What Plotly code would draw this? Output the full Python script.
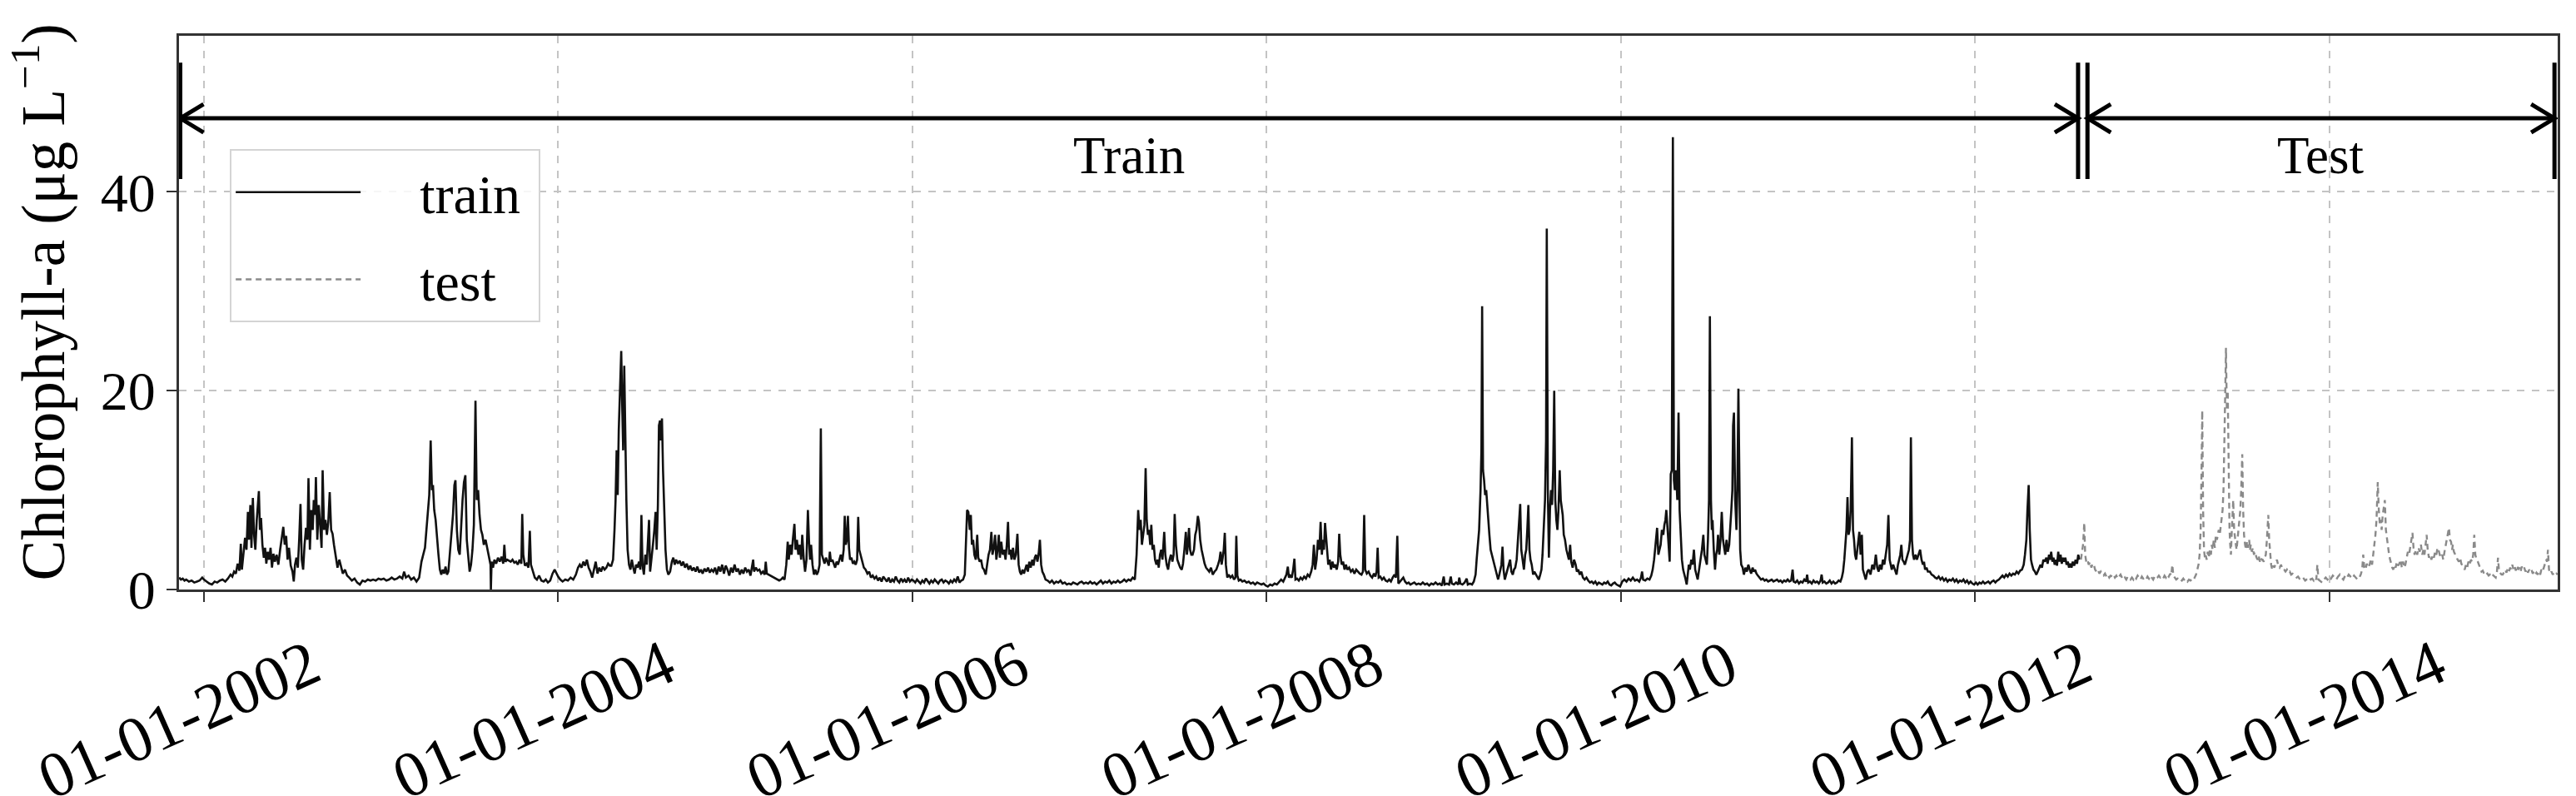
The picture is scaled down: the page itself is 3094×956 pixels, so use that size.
import plotly.graph_objects as go

# ---------------- data (decimal year, chlorophyll-a in ug/L) ----------------
train_2001_2003 = [
    (2001.860,1.2),(2001.870,1.0),(2001.880,1.1),(2001.890,0.9),(2001.900,1.0),(2001.915,0.8),(2001.930,0.9),
    (2001.945,0.7),(2001.960,0.8),(2001.975,0.9),(2001.990,1.2),(2002.000,1.0),(2002.015,0.8),(2002.030,0.6),
    (2002.045,0.5),(2002.060,0.8),(2002.075,0.7),(2002.090,0.9),(2002.105,1.0),(2002.120,0.8),(2002.135,1.1),
    (2002.150,1.5),(2002.160,1.3),(2002.170,1.8),(2002.180,1.6),(2002.190,2.6),(2002.200,1.9),
    (2002.208,4.6),(2002.214,2.0),(2002.222,3.5),(2002.232,5.2),(2002.240,4.0),(2002.248,7.8),(2002.254,5.0),
    (2002.262,8.5),(2002.268,4.2),(2002.276,9.2),(2002.283,5.5),(2002.290,4.0),(2002.298,7.0),(2002.304,8.6),
    (2002.310,9.9),(2002.316,6.0),(2002.322,7.2),(2002.330,4.5),(2002.338,3.2),(2002.345,4.2),(2002.352,2.6),
    (2002.360,3.8),(2002.368,3.0),(2002.376,4.2),(2002.384,2.2),(2002.392,3.6),(2002.400,2.8),(2002.410,3.5),
    (2002.420,2.5),(2002.430,4.0),(2002.440,5.2),(2002.448,6.3),(2002.456,4.5),(2002.464,5.4),(2002.472,3.0),
    (2002.480,4.2),(2002.490,2.4),(2002.500,1.8),(2002.507,0.8),(2002.514,2.5),(2002.522,3.2),(2002.530,2.2),
    (2002.538,5.2),(2002.545,8.6),(2002.552,3.0),(2002.560,2.0),(2002.568,4.5),(2002.576,6.2),(2002.584,5.0),
    (2002.590,11.2),(2002.598,4.0),(2002.606,8.0),(2002.614,6.0),(2002.620,9.0),(2002.627,7.5),(2002.632,11.3),
    (2002.640,5.0),(2002.648,8.5),(2002.656,6.5),(2002.664,4.2),(2002.670,12.0),(2002.678,6.0),(2002.686,7.0),
    (2002.694,5.5),(2002.702,6.8),(2002.710,9.8),(2002.718,6.0),(2002.726,5.6),(2002.734,4.5),(2002.744,3.2),
    (2002.754,2.2),(2002.764,3.0),(2002.774,2.2),(2002.784,1.6),(2002.796,2.0),(2002.808,1.4),(2002.820,1.2),
    (2002.835,0.9),(2002.850,1.1),(2002.865,0.7),(2002.880,0.5),(2002.895,0.9),(2002.910,0.8),(2002.925,1.0),
    (2002.940,0.9),(2002.955,1.0),(2002.970,0.9),(2002.985,1.1),(2003.000,1.0),(2003.015,1.1),(2003.030,0.9),
    (2003.045,1.0),(2003.060,1.2),(2003.075,1.0),(2003.090,1.1),(2003.105,1.3),(2003.120,1.1),(2003.130,1.8),
    (2003.140,1.2),(2003.155,1.4),(2003.170,1.0),(2003.185,1.2),(2003.200,0.8),(2003.215,1.2),(2003.228,2.8),
    (2003.240,3.8),(2003.248,4.2),(2003.256,6.0),(2003.264,7.5),(2003.272,9.5),(2003.280,15.0),(2003.287,10.0),
    (2003.293,10.5),(2003.300,8.0),(2003.308,7.0),(2003.316,5.0),(2003.324,3.5),(2003.332,2.0),(2003.340,1.5),
    (2003.348,2.0),(2003.356,1.6),(2003.364,2.3),(2003.372,1.5),(2003.380,1.8),(2003.390,4.0),(2003.398,6.0),
    (2003.406,7.5),(2003.414,10.5),(2003.420,11.0),(2003.428,6.0),(2003.436,4.0),(2003.444,3.5),(2003.452,6.5),
    (2003.460,9.0),(2003.468,10.8),(2003.476,11.5),(2003.484,5.0),(2003.492,3.0),(2003.500,1.8),(2003.508,2.5),
    (2003.516,4.0),(2003.524,6.5),(2003.533,19.0),(2003.540,9.0),(2003.548,10.0),(2003.556,7.5),(2003.564,6.0),
    (2003.572,5.5),(2003.580,4.5),(2003.590,5.0),(2003.600,4.0),(2003.610,3.2),(2003.618,2.5),(2003.620,0.0),
    (2003.624,2.8),(2003.632,2.2),(2003.640,3.0),(2003.650,2.6),(2003.660,3.2),(2003.670,2.8),(2003.680,3.3),
    (2003.690,2.6),(2003.696,4.5),(2003.702,2.8),(2003.712,3.0),(2003.722,2.9),(2003.732,2.8),(2003.742,3.0),
    (2003.752,2.7),(2003.762,2.8),(2003.772,2.5),(2003.782,3.0),(2003.792,2.6),(2003.797,7.6),(2003.803,3.5),
    (2003.812,2.4),(2003.822,2.6),(2003.832,2.2),(2003.840,5.9),(2003.846,2.5),(2003.856,1.8),(2003.868,1.2),
    (2003.880,1.0),(2003.892,1.4),(2003.905,0.9),(2003.918,0.8),(2003.930,1.0),(2003.942,0.7),(2003.955,0.9),
    (2003.968,1.6),(2003.980,2.0),(2003.990,1.6),
]

train_2004_2005 = [
    (2004.000,1.3),(2004.012,1.0),(2004.025,0.8),(2004.040,1.0),(2004.055,0.9),(2004.070,1.2),(2004.085,1.0),
    (2004.100,1.5),(2004.112,2.2),(2004.122,2.5),(2004.132,2.2),(2004.142,2.8),(2004.152,2.4),(2004.162,3.0),
    (2004.172,2.2),(2004.182,1.8),(2004.192,1.2),(2004.202,2.0),(2004.212,2.8),(2004.222,1.6),(2004.232,2.2),
    (2004.242,1.8),(2004.252,2.3),(2004.262,2.0),(2004.272,2.2),(2004.282,2.6),(2004.292,2.4),
    (2004.300,2.4),(2004.310,3.0),(2004.318,6.0),(2004.324,9.0),(2004.330,14.0),(2004.336,9.5),(2004.342,16.0),
    (2004.350,20.0),(2004.356,24.0),(2004.362,18.0),(2004.367,14.0),(2004.373,22.5),(2004.379,15.0),(2004.385,9.0),
    (2004.392,4.0),(2004.400,2.5),(2004.408,2.0),(2004.416,3.0),(2004.424,2.2),(2004.432,1.6),(2004.440,2.5),
    (2004.448,2.2),(2004.456,2.8),(2004.464,2.0),(2004.470,7.5),(2004.476,2.5),(2004.484,1.5),(2004.492,3.5),
    (2004.500,2.5),(2004.507,5.5),(2004.513,7.0),(2004.519,1.8),(2004.527,3.0),(2004.535,4.5),(2004.543,6.0),
    (2004.550,7.8),(2004.556,4.0),(2004.563,8.5),(2004.569,16.5),(2004.575,17.0),(2004.580,15.0),(2004.586,17.2),
    (2004.592,12.0),(2004.598,8.0),(2004.606,4.0),(2004.614,2.0),(2004.622,1.5),(2004.632,1.8),(2004.642,2.8),
    (2004.650,3.2),(2004.658,2.5),(2004.666,3.0),(2004.676,2.6),(2004.686,2.9),(2004.696,2.4),(2004.706,2.8),
    (2004.716,2.2),(2004.726,2.6),(2004.736,2.0),(2004.746,2.4),(2004.756,1.9),(2004.766,2.2),(2004.776,1.8),
    (2004.786,2.3),(2004.796,1.7),(2004.806,2.0),(2004.816,1.6),(2004.826,2.1),(2004.836,1.8),(2004.846,2.2),
    (2004.856,1.7),(2004.866,2.0),(2004.876,1.8),(2004.886,2.2),(2004.896,1.5),(2004.906,2.3),(2004.916,1.8),
    (2004.926,2.5),(2004.936,1.6),(2004.946,2.4),(2004.956,2.0),(2004.966,1.4),(2004.976,2.2),(2004.986,1.7),
    (2004.996,2.5),(2005.006,1.8),(2005.016,2.1),(2005.026,1.5),(2005.036,2.0),(2005.046,1.6),(2005.056,2.2),
    (2005.066,1.8),(2005.076,2.0),(2005.086,1.4),(2005.096,2.4),(2005.101,3.0),(2005.106,1.8),(2005.116,2.2),
    (2005.126,1.9),(2005.136,2.0),(2005.146,1.6),(2005.156,1.8),(2005.166,1.5),(2005.172,2.8),(2005.178,1.6),
    (2005.188,1.5),(2005.198,1.4),(2005.208,1.3),(2005.218,1.2),(2005.228,1.1),(2005.238,1.0),(2005.248,0.9),
    (2005.258,1.0),(2005.268,1.2),(2005.278,1.0),(2005.288,2.5),(2005.296,4.8),(2005.302,3.0),(2005.310,4.5),
    (2005.318,3.5),(2005.326,5.2),(2005.334,6.6),(2005.340,4.0),(2005.348,5.0),(2005.356,3.5),(2005.364,4.5),
    (2005.372,3.0),(2005.378,5.5),(2005.386,3.2),(2005.394,1.8),(2005.402,3.0),(2005.410,8.0),(2005.416,5.0),
    (2005.422,3.0),(2005.428,4.5),(2005.436,2.5),(2005.444,1.5),(2005.452,2.0),(2005.460,1.5),(2005.468,1.8),
    (2005.476,2.5),(2005.483,16.2),(2005.489,3.5),(2005.496,3.0),(2005.504,2.6),(2005.512,3.2),(2005.520,2.8),
    (2005.528,2.4),(2005.534,3.8),(2005.540,2.8),(2005.548,3.0),(2005.556,2.5),(2005.564,2.2),(2005.572,2.8),
    (2005.580,2.5),(2005.588,3.0),(2005.596,3.5),(2005.604,2.8),(2005.612,4.0),(2005.618,7.4),(2005.624,4.5),
    (2005.630,5.0),(2005.636,7.4),(2005.642,4.2),(2005.648,3.0),(2005.656,3.2),(2005.664,2.6),(2005.672,2.8),
    (2005.680,2.5),(2005.688,3.0),(2005.694,7.3),(2005.700,4.0),(2005.708,3.5),(2005.716,2.8),(2005.726,2.2),
    (2005.736,2.0),(2005.746,1.6),(2005.756,1.8),(2005.766,1.2),(2005.776,1.4),(2005.786,1.1),(2005.796,1.3),
    (2005.806,0.9),(2005.816,1.2),(2005.826,0.8),(2005.836,1.3),(2005.846,1.0),(2005.856,0.8),(2005.866,1.2),
    (2005.876,0.7),(2005.886,1.0),(2005.896,0.8),(2005.906,1.3),(2005.916,0.9),(2005.926,0.7),(2005.936,1.1),
    (2005.946,0.8),(2005.956,1.0),(2005.966,0.7),(2005.976,1.2),(2005.986,0.8),(2005.996,1.0),
]

train_2006_2008 = [
    (2006.006,0.9),(2006.016,0.7),(2006.026,1.0),(2006.036,0.8),(2006.046,0.6),(2006.056,0.9),(2006.066,0.7),
    (2006.076,1.1),(2006.086,0.8),(2006.096,0.6),(2006.106,0.9),(2006.116,0.7),(2006.126,1.0),(2006.136,0.8),
    (2006.146,0.6),(2006.156,0.9),(2006.166,1.0),(2006.176,0.7),(2006.186,0.9),(2006.196,0.8),(2006.206,0.6),
    (2006.216,0.9),(2006.226,0.7),(2006.236,1.0),(2006.246,0.8),(2006.256,1.3),(2006.266,0.7),(2006.276,0.9),
    (2006.286,1.0),(2006.296,1.5),(2006.302,4.0),(2006.309,8.0),(2006.316,7.8),(2006.324,6.0),(2006.330,7.5),
    (2006.336,4.5),(2006.343,5.0),(2006.350,3.5),(2006.358,3.0),(2006.366,5.5),(2006.372,3.2),(2006.380,2.8),
    (2006.388,3.0),(2006.396,2.2),(2006.404,2.0),(2006.414,1.5),(2006.422,2.5),(2006.430,3.5),(2006.438,4.0),
    (2006.446,5.8),(2006.452,3.5),(2006.460,4.2),(2006.467,5.5),(2006.474,3.0),(2006.481,4.0),(2006.488,5.5),
    (2006.494,3.2),(2006.502,4.8),(2006.510,3.5),(2006.518,4.0),(2006.526,3.0),(2006.533,4.5),(2006.540,6.8),
    (2006.546,3.5),(2006.553,4.0),(2006.560,3.0),(2006.568,4.2),(2006.576,3.0),(2006.584,3.5),(2006.593,5.6),
    (2006.600,2.5),(2006.607,1.8),(2006.614,1.5),(2006.622,2.0),(2006.630,1.6),(2006.638,2.2),(2006.645,2.5),
    (2006.652,1.8),(2006.660,2.8),(2006.668,2.2),(2006.677,3.0),(2006.684,2.4),(2006.691,3.2),(2006.698,3.5),
    (2006.706,2.8),(2006.713,3.6),(2006.720,5.0),(2006.727,2.5),(2006.734,1.8),(2006.742,1.5),(2006.752,1.0),
    (2006.764,0.9),(2006.776,0.7),(2006.788,0.9),(2006.800,0.6),(2006.812,0.8),(2006.824,0.7),(2006.836,0.9),
    (2006.848,0.6),(2006.860,0.7),(2006.872,0.5),(2006.884,0.6),(2006.896,0.5),(2006.908,0.7),(2006.920,0.6),
    (2006.932,0.5),(2006.944,0.7),(2006.956,0.8),(2006.968,0.6),(2006.980,0.7),(2006.992,0.6),(2007.004,0.8),
    (2007.016,0.6),(2007.028,0.7),(2007.040,0.5),(2007.052,0.7),(2007.064,0.9),(2007.076,0.6),(2007.088,0.8),
    (2007.100,0.7),(2007.112,0.9),(2007.124,0.6),(2007.136,0.8),(2007.148,0.7),(2007.160,0.9),(2007.172,0.7),
    (2007.184,0.8),(2007.196,1.0),(2007.208,0.8),(2007.220,1.0),(2007.232,0.9),(2007.244,1.2),(2007.256,1.0),
    (2007.266,3.5),(2007.275,8.0),(2007.282,6.0),(2007.289,7.0),(2007.296,4.5),(2007.303,5.5),(2007.310,6.5),
    (2007.317,12.2),(2007.323,7.0),(2007.330,5.5),(2007.336,6.0),(2007.343,4.5),(2007.349,6.5),(2007.356,4.0),
    (2007.363,4.5),(2007.370,3.0),(2007.378,2.5),(2007.385,3.0),(2007.391,2.2),(2007.398,3.5),(2007.405,4.0),
    (2007.412,3.0),(2007.418,4.5),(2007.422,5.8),(2007.428,3.5),(2007.436,2.5),(2007.444,2.0),(2007.452,3.0),
    (2007.460,3.5),(2007.468,2.8),(2007.475,3.5),(2007.481,7.6),(2007.488,4.5),(2007.496,3.0),(2007.504,2.6),
    (2007.512,2.2),(2007.521,2.0),(2007.528,2.6),(2007.536,4.0),(2007.544,5.8),(2007.550,3.5),(2007.556,4.5),
    (2007.562,6.2),(2007.568,4.0),(2007.575,3.5),(2007.582,3.5),(2007.590,4.0),(2007.597,5.5),(2007.604,6.0),
    (2007.612,7.4),(2007.618,6.8),(2007.625,5.0),(2007.633,4.0),(2007.641,3.2),(2007.650,2.6),(2007.658,2.2),
    (2007.666,2.0),(2007.676,1.8),(2007.686,2.2),(2007.696,1.5),(2007.706,1.8),(2007.716,2.0),(2007.726,2.5),
    (2007.734,3.0),(2007.740,3.8),(2007.746,2.5),(2007.752,3.2),(2007.758,4.0),(2007.764,5.7),(2007.770,2.5),
    (2007.778,1.2),(2007.786,1.5),(2007.796,1.2),(2007.806,1.4),(2007.816,1.0),(2007.824,1.2),(2007.829,5.4),
    (2007.835,1.4),(2007.843,0.9),(2007.853,1.0),(2007.863,0.8),(2007.875,0.9),(2007.887,0.7),(2007.899,0.8),
    (2007.911,0.6),(2007.923,0.7),(2007.935,0.5),(2007.947,0.7),(2007.959,0.6),(2007.971,0.5),(2007.983,0.6),
    (2007.995,0.4),(2008.007,0.3),(2008.020,0.5),(2008.032,0.4),(2008.045,0.6),(2008.058,0.5),(2008.070,0.8),
    (2008.082,1.0),(2008.094,0.8),(2008.104,1.2),(2008.112,1.5),(2008.120,2.3),(2008.126,1.2),(2008.134,1.4),
    (2008.142,1.2),(2008.150,2.0),(2008.157,3.1),(2008.163,1.0),(2008.172,1.1),(2008.182,0.9),(2008.192,1.2),
    (2008.202,1.0),(2008.212,1.3),(2008.222,1.1),(2008.232,1.5),(2008.242,1.3),(2008.252,1.8),(2008.260,2.5),
    (2008.267,4.5),(2008.274,2.0),(2008.282,3.0),(2008.290,5.0),(2008.298,4.0),(2008.305,6.8),(2008.312,3.5),
    (2008.318,5.0),(2008.324,4.0),(2008.330,6.7),(2008.336,5.0),(2008.342,4.0),(2008.348,2.5),(2008.356,3.0),
    (2008.364,2.0),(2008.372,2.8),(2008.380,2.2),(2008.388,2.5),(2008.396,2.0),(2008.404,2.8),(2008.410,5.6),
    (2008.416,3.5),(2008.424,2.5),(2008.432,2.8),(2008.440,2.0),(2008.448,2.5),(2008.456,2.0),(2008.466,2.2),
    (2008.476,1.8),(2008.486,2.0),(2008.496,1.6),(2008.506,2.0),(2008.516,1.8),(2008.526,1.6),(2008.536,1.5),
    (2008.544,1.8),(2008.551,7.5),(2008.557,2.0),(2008.566,1.6),(2008.576,1.8),(2008.586,1.4),(2008.596,1.2),
    (2008.606,1.6),(2008.614,1.3),(2008.621,1.8),(2008.627,4.2),(2008.633,1.2),(2008.642,1.3),(2008.652,1.0),
    (2008.662,1.2),(2008.672,0.9),(2008.682,0.8),(2008.692,1.0),(2008.702,0.8),(2008.712,1.2),(2008.722,1.5),
    (2008.730,1.2),(2008.738,5.4),(2008.744,0.6),(2008.752,0.8),(2008.762,1.0),(2008.772,1.2),(2008.782,0.8),
    (2008.792,0.6),(2008.802,0.7),(2008.812,0.5),(2008.822,0.6),(2008.834,0.7),(2008.846,0.5),(2008.858,0.6),
    (2008.870,0.5),(2008.882,0.7),(2008.894,0.5),(2008.906,0.6),(2008.918,0.4),(2008.930,0.6),(2008.942,0.5),
    (2008.954,0.7),(2008.966,0.5),(2008.978,0.6),(2008.990,0.4),
]

train_2009_2010 = [
    (2009.000,1.3),(2009.006,0.5),(2009.018,0.6),(2009.030,0.5),(2009.040,1.3),(2009.046,0.6),(2009.058,0.5),
    (2009.070,0.7),(2009.082,0.5),(2009.088,1.2),(2009.094,0.6),(2009.106,0.5),(2009.118,0.7),(2009.130,1.1),
    (2009.136,0.5),(2009.148,0.6),(2009.160,0.5),(2009.170,0.8),(2009.180,1.5),(2009.186,3.0),(2009.192,4.5),
    (2009.200,6.0),(2009.208,10.0),(2009.213,14.0),(2009.217,28.5),(2009.222,12.0),(2009.228,11.0),(2009.234,9.5),
    (2009.240,10.0),(2009.246,8.0),(2009.252,7.0),(2009.258,5.5),(2009.265,4.0),(2009.272,3.5),(2009.279,3.0),
    (2009.286,2.5),(2009.293,2.0),(2009.300,1.5),(2009.307,1.0),(2009.314,1.5),(2009.320,2.0),(2009.326,2.5),
    (2009.332,4.3),(2009.338,2.0),(2009.345,1.0),(2009.352,1.5),(2009.360,2.0),(2009.368,2.5),(2009.375,3.0),
    (2009.382,1.8),(2009.390,1.5),(2009.397,2.0),(2009.404,2.2),(2009.412,3.0),(2009.419,5.0),(2009.426,6.5),
    (2009.432,8.6),(2009.438,4.0),(2009.445,3.0),(2009.453,2.0),(2009.460,3.5),(2009.466,4.0),(2009.472,6.0),
    (2009.478,8.5),(2009.484,4.0),(2009.490,3.0),(2009.497,2.5),(2009.505,1.5),(2009.512,1.8),(2009.520,1.5),
    (2009.528,1.2),(2009.537,1.0),(2009.545,1.5),(2009.552,2.0),(2009.558,3.5),(2009.565,6.0),(2009.572,9.0),
    (2009.578,15.0),(2009.582,36.3),(2009.588,10.0),(2009.594,3.2),(2009.600,8.0),(2009.606,10.0),(2009.612,8.5),
    (2009.618,12.0),(2009.624,20.0),(2009.630,9.0),(2009.636,7.0),(2009.642,6.0),(2009.648,8.0),(2009.655,12.0),
    (2009.661,9.0),(2009.667,8.0),(2009.672,7.5),(2009.678,5.5),(2009.685,5.0),(2009.693,4.0),(2009.700,3.5),
    (2009.707,3.0),(2009.714,4.5),(2009.720,2.8),(2009.728,2.2),(2009.736,3.0),(2009.745,2.5),(2009.752,1.8),
    (2009.760,2.0),(2009.768,1.5),(2009.777,1.8),(2009.786,1.2),(2009.796,1.0),(2009.806,1.2),(2009.816,0.9),
    (2009.826,0.7),(2009.836,0.8),(2009.846,0.6),(2009.856,0.8),(2009.866,0.5),(2009.876,0.7),(2009.886,0.6),
    (2009.896,0.5),(2009.906,0.7),(2009.916,0.6),(2009.926,0.8),(2009.936,0.5),(2009.946,0.4),(2009.956,0.6),
    (2009.966,0.7),(2009.976,0.5),(2009.986,0.4),(2009.996,0.3),
    (2010.008,0.8),(2010.020,1.0),(2010.032,0.8),(2010.044,1.1),(2010.056,0.9),(2010.068,1.2),(2010.080,0.9),
    (2010.092,1.0),(2010.104,0.8),(2010.114,1.2),(2010.120,1.8),(2010.126,1.0),(2010.138,0.9),(2010.150,1.1),
    (2010.162,1.0),(2010.172,1.4),(2010.180,2.0),(2010.188,3.0),(2010.196,4.5),(2010.205,6.2),(2010.212,3.5),
    (2010.218,4.0),(2010.225,4.5),(2010.232,6.0),(2010.240,5.5),(2010.246,6.5),(2010.252,7.0),(2010.257,8.0),
    (2010.264,6.0),(2010.270,5.0),(2010.276,2.8),(2010.282,11.6),(2010.288,12.0),(2010.294,45.5),(2010.300,11.0),
    (2010.305,10.0),(2010.312,12.0),(2010.319,9.0),(2010.326,17.8),(2010.332,8.0),(2010.338,5.0),(2010.345,3.0),
    (2010.352,2.0),(2010.360,1.5),(2010.366,1.0),(2010.372,0.5),(2010.378,1.5),(2010.384,2.5),(2010.390,2.0),
    (2010.398,3.0),(2010.405,2.5),(2010.413,4.0),(2010.420,2.0),(2010.427,1.5),(2010.434,1.0),(2010.442,2.0),
    (2010.450,3.0),(2010.458,4.0),(2010.466,5.5),(2010.472,3.5),(2010.479,3.0),(2010.486,2.5),(2010.492,5.0),
    (2010.498,9.0),(2010.503,27.5),(2010.509,9.0),(2010.514,6.0),(2010.518,7.0),(2010.525,4.0),(2010.532,2.0),
    (2010.538,3.5),(2010.544,4.0),(2010.549,5.5),(2010.556,3.5),(2010.563,5.0),(2010.570,7.8),(2010.577,5.0),
    (2010.584,4.0),(2010.590,3.5),(2010.597,5.0),(2010.604,3.8),(2010.612,4.5),(2010.618,6.0),(2010.624,8.0),
    (2010.630,10.0),(2010.634,16.5),(2010.639,17.8),(2010.646,9.0),(2010.653,6.0),(2010.658,10.0),(2010.664,20.2),
    (2010.669,8.0),(2010.674,4.0),(2010.680,2.5),(2010.688,2.2),(2010.695,1.5),(2010.704,2.2),(2010.712,1.8),
    (2010.720,2.5),(2010.728,2.0),(2010.736,1.6),(2010.744,2.2),(2010.751,1.8),(2010.758,2.0),(2010.766,1.6),
    (2010.774,1.4),(2010.782,1.2),(2010.792,1.0),(2010.802,1.1),(2010.812,0.9),(2010.822,1.0),(2010.832,0.8),
    (2010.842,0.9),(2010.852,1.0),(2010.862,0.8),(2010.872,0.9),(2010.882,1.0),(2010.892,0.8),(2010.902,0.9),
    (2010.912,0.7),(2010.922,0.9),(2010.932,0.8),(2010.942,1.0),(2010.952,0.8),(2010.962,0.9),(2010.970,2.0),
    (2010.976,0.8),(2010.986,0.7),(2010.996,0.9),
]

train_2011_2012 = [
    (2011.006,0.6),(2011.016,0.8),(2011.026,0.7),(2011.036,1.0),(2011.046,0.8),(2011.052,1.5),(2011.058,0.7),
    (2011.068,0.8),(2011.078,0.6),(2011.088,0.9),(2011.098,0.7),(2011.108,0.8),(2011.118,0.6),(2011.128,0.9),
    (2011.134,1.5),(2011.140,0.7),(2011.150,0.8),(2011.160,0.6),(2011.170,0.7),(2011.180,0.9),(2011.190,0.6),
    (2011.200,0.8),(2011.210,0.6),(2011.220,0.7),(2011.230,0.9),(2011.240,0.8),(2011.248,1.2),(2011.255,1.8),
    (2011.262,3.0),(2011.268,4.5),(2011.274,6.0),(2011.280,9.3),(2011.286,5.5),(2011.292,6.0),(2011.298,8.0),
    (2011.305,15.3),(2011.311,6.0),(2011.317,5.0),(2011.323,3.5),(2011.329,3.0),(2011.335,4.0),(2011.341,4.8),
    (2011.347,5.8),(2011.354,3.5),(2011.361,5.5),(2011.367,2.0),(2011.375,1.5),(2011.383,1.0),(2011.392,1.8),
    (2011.400,2.0),(2011.410,1.5),(2011.420,2.5),(2011.430,2.0),(2011.440,3.5),(2011.448,2.2),(2011.456,1.8),
    (2011.463,2.5),(2011.472,2.0),(2011.480,3.0),(2011.488,2.5),(2011.496,3.5),(2011.504,4.5),(2011.511,7.5),
    (2011.518,3.0),(2011.524,2.5),(2011.530,2.0),(2011.538,2.5),(2011.546,2.0),(2011.557,1.5),(2011.565,2.5),
    (2011.572,3.0),(2011.578,3.5),(2011.584,4.5),(2011.590,3.0),(2011.597,2.8),(2011.604,2.5),(2011.612,3.0),
    (2011.620,3.5),(2011.627,4.0),(2011.633,5.0),(2011.638,15.3),(2011.644,5.0),(2011.650,3.5),(2011.656,3.0),
    (2011.664,3.5),(2011.672,3.0),(2011.680,3.5),(2011.690,4.0),(2011.698,3.0),(2011.706,2.5),(2011.712,2.8),
    (2011.718,2.0),(2011.726,2.2),(2011.734,1.8),(2011.745,1.8),(2011.755,1.5),(2011.765,1.4),(2011.775,1.2),
    (2011.785,1.1),(2011.795,1.3),(2011.805,1.0),(2011.815,1.2),(2011.825,0.9),(2011.835,1.1),(2011.845,0.8),
    (2011.855,1.0),(2011.865,0.9),(2011.875,1.1),(2011.885,0.8),(2011.895,1.0),(2011.905,0.7),(2011.915,0.9),
    (2011.925,0.8),(2011.935,1.0),(2011.945,0.7),(2011.955,0.9),(2011.965,0.6),(2011.975,0.8),(2011.985,0.6),
    (2011.995,0.5),(2012.005,0.7),(2012.015,0.5),(2012.025,0.7),(2012.035,0.6),(2012.045,0.8),(2012.055,0.6),
    (2012.065,0.7),(2012.075,0.8),(2012.085,0.6),(2012.095,0.8),(2012.105,0.9),(2012.115,0.7),(2012.125,0.9),
    (2012.135,1.0),(2012.145,1.2),(2012.155,1.4),(2012.165,1.2),(2012.175,1.5),(2012.185,1.3),(2012.195,1.6),
    (2012.205,1.4),(2012.215,1.6),(2012.225,1.5),(2012.235,1.8),(2012.245,1.6),(2012.255,1.9),(2012.265,2.0),
    (2012.275,2.5),(2012.282,3.5),(2012.290,5.0),(2012.296,8.0),(2012.303,10.5),(2012.309,6.0),(2012.316,3.0),
    (2012.322,2.5),(2012.330,2.0),(2012.338,1.8),(2012.346,1.5),(2012.354,1.8),(2012.362,2.2),(2012.370,2.5),
    (2012.378,2.2),(2012.386,3.0),(2012.394,2.8),(2012.403,3.2),(2012.410,2.6),(2012.418,3.5),(2012.424,3.0),
    (2012.430,3.8),(2012.437,2.8),(2012.443,3.2),(2012.450,2.5),(2012.456,3.0),(2012.463,2.4),(2012.470,3.8),
    (2012.476,2.8),(2012.483,3.5),(2012.490,2.6),(2012.497,3.2),(2012.504,2.8),(2012.510,3.2),(2012.517,2.5),
    (2012.524,2.8),(2012.531,2.2),(2012.538,2.6),(2012.545,2.2),(2012.552,2.8),(2012.560,2.4),(2012.568,3.0),
    (2012.576,2.6),(2012.583,3.5),(2012.590,3.0),
]

test_2012_2013 = [
    (2012.598,3.0),(2012.604,3.8),(2012.610,4.5),(2012.617,6.7),(2012.622,3.5),(2012.628,2.8),(2012.635,3.0),
    (2012.642,2.5),(2012.650,2.8),(2012.657,2.2),(2012.664,2.6),(2012.671,2.5),(2012.678,2.0),(2012.686,1.8),
    (2012.694,2.0),(2012.702,1.6),(2012.710,1.8),(2012.718,1.5),(2012.726,1.4),(2012.734,1.6),(2012.742,1.3),
    (2012.750,1.5),(2012.758,1.2),(2012.766,1.4),(2012.774,1.3),(2012.782,1.5),(2012.790,1.2),(2012.798,1.4),
    (2012.806,1.1),(2012.814,1.3),(2012.822,1.5),(2012.830,1.2),(2012.838,1.0),(2012.846,1.2),(2012.854,1.0),
    (2012.862,1.3),(2012.870,1.1),(2012.878,1.0),(2012.886,1.2),(2012.894,1.0),(2012.902,1.3),(2012.910,1.1),
    (2012.918,1.4),(2012.926,1.2),(2012.934,1.0),(2012.942,1.3),(2012.950,1.1),(2012.958,1.2),(2012.966,1.0),
    (2012.974,1.3),(2012.982,1.1),(2012.990,1.4),(2012.998,1.2),(2013.006,1.0),(2013.014,1.3),(2013.022,1.1),
    (2013.030,1.2),(2013.038,1.4),(2013.046,1.2),(2013.054,1.3),(2013.062,1.1),(2013.070,1.4),(2013.078,1.2),
    (2013.086,1.5),(2013.094,1.3),(2013.102,1.6),(2013.108,1.4),(2013.114,2.5),(2013.120,1.4),(2013.128,1.2),
    (2013.136,1.0),(2013.144,1.1),(2013.152,0.9),(2013.160,1.0),(2013.168,0.9),(2013.176,1.1),(2013.184,0.9),
    (2013.192,1.0),(2013.200,0.8),(2013.208,1.0),(2013.216,0.9),(2013.224,1.0),(2013.232,0.9),(2013.240,1.2),
    (2013.248,1.5),(2013.255,2.0),(2013.262,2.5),(2013.268,3.5),(2013.274,6.0),(2013.279,12.0),(2013.283,18.0),
    (2013.288,8.0),(2013.293,4.0),(2013.298,3.2),(2013.302,3.5),(2013.308,3.0),(2013.314,3.8),(2013.320,3.2),
    (2013.326,4.0),(2013.332,3.5),(2013.337,4.5),(2013.342,4.0),(2013.348,5.0),(2013.354,4.2),(2013.360,5.5),
    (2013.366,5.0),(2013.370,5.5),(2013.376,6.0),(2013.382,5.5),(2013.388,6.5),(2013.393,7.0),(2013.398,8.0),
    (2013.403,10.0),(2013.408,14.0),(2013.413,20.0),(2013.417,24.3),(2013.422,18.0),(2013.427,20.0),(2013.432,12.0),
    (2013.437,6.0),(2013.441,4.5),(2013.445,3.5),(2013.450,6.0),(2013.455,7.5),(2013.458,9.0),(2013.463,6.0),
    (2013.468,5.0),(2013.473,4.5),(2013.477,4.0),(2013.482,5.0),(2013.487,5.5),(2013.493,6.5),(2013.498,8.0),
    (2013.503,10.0),(2013.509,13.6),(2013.514,8.0),(2013.519,5.5),(2013.525,4.5),(2013.530,4.0),(2013.536,4.8),
    (2013.542,4.2),(2013.548,5.0),(2013.553,4.0),(2013.557,4.5),(2013.563,3.8),(2013.569,4.2),(2013.575,3.5),
    (2013.580,3.8),(2013.584,3.5),(2013.590,3.2),(2013.596,3.0),(2013.602,3.4),(2013.608,2.8),(2013.614,3.2),
    (2013.619,3.0),(2013.624,3.0),(2013.630,2.8),(2013.636,3.2),(2013.642,3.5),(2013.648,5.0),(2013.652,6.5),
    (2013.656,7.5),(2013.661,5.0),(2013.666,3.5),(2013.672,2.5),(2013.678,2.0),(2013.684,2.4),(2013.690,2.2),
    (2013.697,2.6),(2013.705,3.0),(2013.712,2.4),(2013.720,2.2),(2013.728,2.5),(2013.736,2.0),(2013.745,2.0),
    (2013.753,1.8),(2013.761,2.0),(2013.769,1.7),(2013.777,1.8),(2013.785,1.5),(2013.793,1.6),(2013.800,1.5),
    (2013.808,1.4),(2013.816,1.2),(2013.824,1.3),(2013.832,1.1),(2013.840,1.2),(2013.848,1.0),(2013.856,1.1),
    (2013.864,0.9),(2013.872,1.0),(2013.880,1.0),(2013.888,1.2),(2013.896,1.0),(2013.904,1.1),(2013.912,0.9),
    (2013.920,1.2),(2013.927,1.0),(2013.933,2.5),(2013.939,1.0),(2013.950,0.8),(2013.960,0.7),(2013.970,1.0),
    (2013.980,1.2),(2013.990,1.0),
]

test_2014_2015 = [
    (2014.000,1.3),(2014.010,1.1),(2014.020,1.4),(2014.030,1.2),(2014.040,1.0),(2014.050,1.3),(2014.060,1.5),
    (2014.070,1.2),(2014.080,1.0),(2014.090,1.4),(2014.100,1.2),(2014.110,1.5),(2014.120,1.3),(2014.130,1.1),
    (2014.140,1.4),(2014.150,1.2),(2014.160,1.0),(2014.170,1.2),(2014.178,1.5),(2014.186,2.0),(2014.192,3.5),
    (2014.198,2.2),(2014.205,2.0),(2014.212,2.6),(2014.220,2.2),(2014.228,2.5),(2014.235,3.0),(2014.242,2.5),
    (2014.249,3.5),(2014.255,4.5),(2014.261,5.5),(2014.267,7.0),(2014.274,10.8),(2014.280,8.0),(2014.286,6.5),
    (2014.291,7.0),(2014.296,6.0),(2014.302,7.5),(2014.308,8.5),(2014.314,9.0),(2014.320,6.0),(2014.326,5.0),
    (2014.332,4.5),(2014.338,3.5),(2014.344,3.0),(2014.350,2.5),(2014.356,2.2),(2014.362,2.0),(2014.368,2.5),
    (2014.375,2.2),(2014.382,2.8),(2014.389,2.4),(2014.396,2.6),(2014.403,3.0),(2014.410,2.2),(2014.417,2.8),
    (2014.424,2.2),(2014.430,2.5),(2014.437,3.2),(2014.444,3.8),(2014.451,3.5),(2014.458,4.2),(2014.464,4.8),
    (2014.470,5.7),(2014.476,4.2),(2014.482,3.5),(2014.489,4.0),(2014.497,3.5),(2014.504,4.2),(2014.511,3.8),
    (2014.518,4.5),(2014.525,3.5),(2014.532,4.0),(2014.538,3.5),(2014.544,4.5),(2014.550,5.5),(2014.556,4.0),
    (2014.563,3.2),(2014.570,3.5),(2014.577,3.0),(2014.584,3.5),(2014.591,3.2),(2014.598,3.8),(2014.605,3.5),
    (2014.611,4.2),(2014.617,4.0),(2014.624,3.5),(2014.631,3.2),(2014.638,3.5),(2014.644,3.0),(2014.651,3.8),
    (2014.658,4.5),(2014.664,5.0),(2014.670,5.5),(2014.676,6.2),(2014.682,5.0),(2014.688,4.8),(2014.694,4.0),
    (2014.698,4.5),(2014.704,3.8),(2014.711,3.5),(2014.718,3.2),(2014.725,3.0),(2014.732,2.8),(2014.739,3.2),
    (2014.746,2.6),(2014.753,2.4),(2014.759,2.2),(2014.765,2.0),(2014.772,2.5),(2014.779,2.2),(2014.786,2.8),
    (2014.793,2.5),(2014.800,3.0),(2014.806,2.8),(2014.813,3.5),(2014.819,5.5),(2014.825,3.5),(2014.832,3.0),
    (2014.839,2.8),(2014.846,2.5),(2014.853,2.2),(2014.860,1.8),(2014.867,1.9),(2014.874,1.6),(2014.880,1.7),
    (2014.886,1.5),(2014.893,1.6),(2014.900,1.4),(2014.907,1.5),(2014.914,1.3),(2014.921,1.5),(2014.928,1.4),
    (2014.935,1.3),(2014.940,1.2),(2014.947,1.8),(2014.953,3.2),(2014.959,1.8),(2014.966,1.6),(2014.973,1.5),
    (2014.980,1.5),(2014.987,1.8),(2014.994,2.0),(2015.001,1.7),(2015.008,2.1),(2015.015,1.8),(2015.022,2.2),
    (2015.028,2.0),(2015.034,2.5),(2015.040,2.0),(2015.047,2.3),(2015.054,1.9),(2015.061,2.4),(2015.068,2.0),
    (2015.075,2.2),(2015.081,1.8),(2015.087,2.3),(2015.094,2.0),(2015.101,2.2),(2015.108,1.8),(2015.115,2.1),
    (2015.122,1.7),(2015.129,2.0),(2015.136,1.8),(2015.142,2.0),(2015.149,1.6),(2015.156,1.8),(2015.163,1.5),
    (2015.170,1.7),(2015.177,1.5),(2015.184,1.8),(2015.191,1.5),(2015.198,2.0),(2015.205,1.8),(2015.212,2.2),
    (2015.219,2.5),(2015.225,3.0),(2015.230,2.8),(2015.235,4.0),(2015.241,2.0),(2015.248,1.6),(2015.255,1.8),
    (2015.262,1.5),(2015.269,1.7),(2015.276,1.5),(2015.283,1.6),(2015.289,1.5),
]

tick_years = [2002, 2004, 2006, 2008, 2010, 2012, 2014]
tick_labels = ["01-01-2002", "01-01-2004", "01-01-2006", "01-01-2008",
               "01-01-2010", "01-01-2012", "01-01-2014"]
y_ticks = [0, 20, 40]
x_range = [2001.859, 2015.29]
y_range = [0, 55.7]
period_edges = [2001.866, 2012.582, 2012.635, 2015.272]   # start | train end || test start | end
period_names = ["Train", "Test"]
arrow_level = 47.4
bar_span = [41.3, 53.0]
label_level = 43.6
legend_names = ["\u00a0\u00a0\u00a0\u00a0train\u00a0", "\u00a0\u00a0\u00a0\u00a0test"]

# ---------------- build ----------------
train = train_2001_2003 + train_2004_2005 + train_2006_2008 + train_2009_2010 + train_2011_2012
test = test_2012_2013 + test_2014_2015

SERIF = "Liberation Serif, Times New Roman, serif"
fig = go.Figure()
fig.add_trace(go.Scatter(x=[p[0] for p in train], y=[p[1] for p in train], mode="lines",
                         name=legend_names[0], line=dict(color="#111111", width=2.6), legendgroup="a"))
fig.add_trace(go.Scatter(x=[p[0] for p in test], y=[p[1] for p in test], mode="lines",
                         name=legend_names[1], line=dict(color="#8a8a8a", width=2.4, dash="7px,5px"),
                         legendgroup="b"))

# period bars
for xe in period_edges:
    fig.add_shape(type="line", x0=xe, x1=xe, y0=bar_span[0], y1=bar_span[1], xref="x", yref="y",
                  line=dict(color="black", width=5))

# double arrows: shaft + open chevron heads (pixel-sized paths anchored at the period edges)
CHEV_L = "M 28,-17 L 0,0 L 28,17"    # head pointing left
CHEV_R = "M -28,-17 L 0,0 L -28,17"  # head pointing right
spans = [(period_edges[0], period_edges[1]), (period_edges[2], period_edges[3])]
for (a, b), name in zip(spans, period_names):
    fig.add_shape(type="line", x0=a, x1=b, y0=arrow_level, y1=arrow_level, xref="x", yref="y",
                  line=dict(color="black", width=5))
    for xa, path in ((a, CHEV_L), (b, CHEV_R)):
        fig.add_shape(type="path", path=path, xref="x", yref="y", xsizemode="pixel", ysizemode="pixel",
                      xanchor=xa, yanchor=arrow_level, line=dict(color="black", width=5))
    fig.add_annotation(x=(a + b) / 2, y=label_level, xref="x", yref="y", text=name, showarrow=False,
                       font=dict(family=SERIF, size=63, color="black"), xanchor="center", yanchor="middle")

# rotated x tick labels (matplotlib-like centred rotation)
for tv, tl in zip(tick_years, tick_labels):
    fig.add_annotation(x=tv, y=0, xref="x", yref="paper", text=tl, showarrow=False, textangle=-24,
                       xanchor="center", yanchor="middle", xshift=-30, yshift=-156,
                       font=dict(family=SERIF, size=77, color="black"))

# y-axis title
fig.add_annotation(x=0, y=0.5, xref="paper", yref="paper", text="Chlorophyll-a (μg L<sup>−1</sup>)",
                   showarrow=False, textangle=-90, xanchor="center", yanchor="middle", xshift=-168, yshift=12,
                   font=dict(family=SERIF, size=73, color="black"))

fig.update_layout(
    width=3094, height=956,
    margin=dict(l=207, r=30, t=35, b=256, autoexpand=False),
    paper_bgcolor="white", plot_bgcolor="white",
    showlegend=True,
    legend=dict(x=0.0214, y=0.795, xanchor="left", yanchor="top",
                font=dict(family=SERIF, size=66, color="black"),
                bgcolor="rgba(255,255,255,0.85)", bordercolor="#d4d4d4", borderwidth=2,
                itemwidth=150, tracegroupgap=16),
    font=dict(family=SERIF),
)
fig.update_xaxes(range=x_range, tickvals=tick_years, ticktext=tick_labels, showticklabels=False,
                 ticks="outside", ticklen=12, tickwidth=2, tickcolor="#333333",
                 showgrid=True, gridcolor="#c4c4c4", griddash="dash", gridwidth=2,
                 showline=True, linecolor="#333333", linewidth=3, mirror=True, zeroline=False)
fig.update_yaxes(range=y_range, tickvals=y_ticks, ticks="outside", ticklen=12, tickwidth=2,
                 tickcolor="#333333", tickfont=dict(family=SERIF, size=66, color="black"),
                 showgrid=True, gridcolor="#c4c4c4", griddash="dash", gridwidth=2,
                 showline=True, linecolor="#333333", linewidth=3, mirror=True, zeroline=False)

fig.write_html("out.html")
